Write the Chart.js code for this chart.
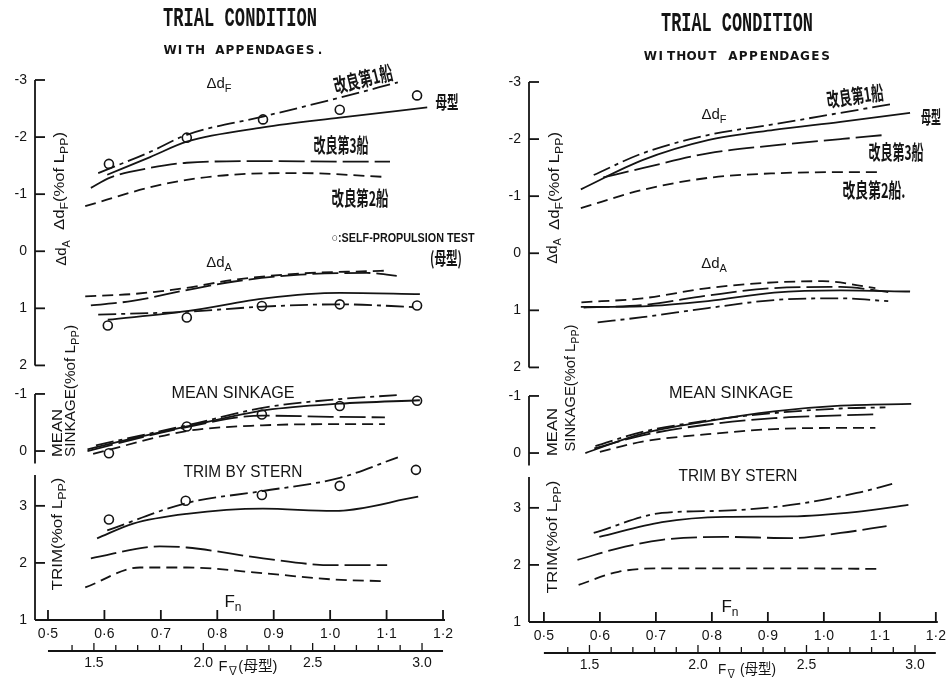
<!DOCTYPE html>
<html>
<head>
<meta charset="utf-8">
<script src="https://cdn.jsdelivr.net/npm/chart.js"></script>
<style>
  html, body { margin: 0; padding: 0; background: #fff; }
  #wrap { position: relative; width: 952px; height: 681px; overflow: hidden; }
  canvas { position: absolute; top: 0; }
  #left { left: 0; }
  #right { left: 476px; }
</style>
</head>
<body>
<div id="wrap">
  <canvas id="left" width="476" height="681"></canvas>
  <canvas id="right" width="476" height="681"></canvas>
</div>
<script>
// ---- axis ticks ----
const fnTicks = [0.5, 0.6, 0.7, 0.8, 0.9, 1.0, 1.1, 1.2];
const fvTicks = [1.4, 1.5, 1.6, 1.7, 1.8, 1.9, 2.0, 2.1, 2.2, 2.3, 2.4, 2.5, 2.6, 2.7, 2.8, 2.9, 3.0];
const fvLabelled = [1.5, 2.0, 2.5, 3.0];
const FV_PER_FN = 2.58; // Fv of the parent hull is proportional to Fn

// y ticks: [section, value]; the axis is one stacked scale of four sections
const yTicks = [['dF', -3], ['dF', -2], ['dF', -1], ['dF', 0], ['dA', 1], ['dA', 2],
                ['sink', -1], ['sink', 0], ['trim', 3], ['trim', 2], ['trim', 1]];
const ySegments = [[['dF', -3], ['dA', 2]], [['sink', -1], ['sink', 0.22]], [['trim', 3.54], ['trim', 1]]];

// ---- WITH APPENDAGES (left) : [Fn, value] ----
const withDF_mother = [[0.605, -1.34], [0.681, -1.65], [0.746, -1.92], [0.881, -2.17], [1.017, -2.34], [1.172, -2.52]];
const withDF_ship1  = [[0.589, -1.37], [0.681, -1.74], [0.746, -2.04], [0.881, -2.36], [1.017, -2.69], [1.120, -2.96]];
const withDF_ship2  = [[0.566, -0.79], [0.681, -1.12], [0.746, -1.25], [0.826, -1.34], [0.944, -1.37], [1.101, -1.30]];
const withDF_ship3  = [[0.576, -1.11], [0.610, -1.29], [0.681, -1.46], [0.746, -1.55], [0.881, -1.58], [1.017, -1.57], [1.106, -1.57]];
const withDF_test   = [[0.608, -1.53], [0.746, -1.99], [0.881, -2.31], [1.017, -2.48], [1.154, -2.73]];

const withDA_mother = [[0.606, 1.20], [0.746, 1.05], [0.888, 0.82], [1.017, 0.73], [1.159, 0.75]];
const withDA_ship1  = [[0.589, 1.11], [0.746, 1.06], [0.881, 0.97], [1.017, 0.93], [1.154, 0.98]];
const withDA_ship2  = [[0.566, 0.79], [0.650, 0.75], [0.746, 0.64], [0.830, 0.50], [0.947, 0.39], [1.065, 0.35], [1.100, 0.34]];
const withDA_ship3  = [[0.576, 0.95], [0.650, 0.87], [0.746, 0.68], [0.830, 0.53], [0.947, 0.41], [1.065, 0.38], [1.118, 0.43]];
const withDA_test   = [[0.606, 1.30], [0.746, 1.16], [0.879, 0.96], [1.017, 0.93], [1.154, 0.95]];

const withSink_mother = [[0.570, -0.03], [0.650, -0.22], [0.746, -0.43], [0.888, -0.72], [1.017, -0.83], [1.159, -0.89]];
const withSink_ship1  = [[0.585, -0.10], [0.746, -0.45], [0.888, -0.77], [1.017, -0.91], [1.118, -0.98]];
const withSink_ship2  = [[0.580, 0.05], [0.746, -0.35], [0.880, -0.45], [1.000, -0.47], [1.097, -0.47]];
const withSink_ship3  = [[0.570, 0.00], [0.746, -0.42], [0.880, -0.62], [1.000, -0.60], [1.097, -0.59]];
const withSink_test   = [[0.608, 0.04], [0.746, -0.43], [0.879, -0.64], [1.017, -0.79], [1.154, -0.88]];

const withTrim_mother = [[0.587, 2.43], [0.651, 2.69], [0.746, 2.86], [0.881, 2.95], [1.005, 2.91], [1.156, 3.16]];
const withTrim_ship1  = [[0.605, 2.57], [0.746, 3.05], [0.881, 3.26], [1.017, 3.49], [1.120, 3.85]];
const withTrim_ship2  = [[0.566, 1.57], [0.663, 1.92], [0.746, 1.92], [0.881, 1.82], [1.005, 1.71], [1.097, 1.68]];
const withTrim_ship3  = [[0.576, 2.08], [0.698, 2.29], [0.746, 2.27], [0.881, 2.08], [1.005, 1.96], [1.101, 1.96]];
const withTrim_test   = [[0.608, 2.76], [0.744, 3.09], [0.879, 3.19], [1.017, 3.35], [1.152, 3.63]];

// ---- WITHOUT APPENDAGES (right) ----
const noDF_mother = [[0.566, -1.12], [0.676, -1.63], [0.793, -1.98], [0.911, -2.16], [1.030, -2.30], [1.154, -2.46]];
const noDF_ship1  = [[0.589, -1.37], [0.676, -1.75], [0.793, -2.07], [0.911, -2.26], [1.030, -2.46], [1.119, -2.61]];
const noDF_ship2  = [[0.566, -0.79], [0.676, -1.11], [0.793, -1.32], [0.911, -1.40], [1.030, -1.42], [1.103, -1.42]];
const noDF_ship3  = [[0.606, -1.33], [0.676, -1.49], [0.793, -1.75], [0.911, -1.89], [1.030, -2.00], [1.106, -2.07]];

const noDA_mother = [[0.566, 0.94], [0.676, 0.93], [0.793, 0.84], [0.911, 0.69], [1.030, 0.65], [1.154, 0.67]];
const noDA_ship1  = [[0.596, 1.21], [0.676, 1.12], [0.793, 0.96], [0.911, 0.82], [1.030, 0.79], [1.115, 0.84]];
const noDA_ship2  = [[0.567, 0.86], [0.676, 0.79], [0.793, 0.61], [0.911, 0.51], [0.998, 0.49], [1.092, 0.61]];
const noDA_ship3  = [[0.571, 0.95], [0.676, 0.91], [0.793, 0.74], [0.911, 0.61], [1.030, 0.59], [1.115, 0.68]];

const noSink_mother = [[0.574, 0.00], [0.676, -0.34], [0.793, -0.56], [0.911, -0.73], [1.030, -0.83], [1.156, -0.86]];
const noSink_ship1  = [[0.592, -0.12], [0.676, -0.37], [0.793, -0.57], [0.911, -0.70], [1.030, -0.78], [1.110, -0.80]];
const noSink_ship2  = [[0.600, -0.02], [0.676, -0.20], [0.793, -0.33], [0.911, -0.42], [1.030, -0.44], [1.092, -0.44]];
const noSink_ship3  = [[0.590, -0.08], [0.676, -0.31], [0.793, -0.50], [0.911, -0.61], [1.030, -0.66], [1.098, -0.68]];

const noTrim_mother = [[0.599, 2.49], [0.711, 2.75], [0.823, 2.84], [0.941, 2.85], [1.059, 2.93], [1.151, 3.05]];
const noTrim_ship1  = [[0.589, 2.56], [0.711, 2.91], [0.823, 2.95], [0.941, 3.05], [1.059, 3.26], [1.122, 3.42]];
const noTrim_ship2  = [[0.562, 1.65], [0.633, 1.88], [0.711, 1.94], [0.823, 1.94], [0.941, 1.94], [1.098, 1.93]];
const noTrim_ship3  = [[0.560, 2.09], [0.645, 2.32], [0.711, 2.44], [0.823, 2.49], [0.941, 2.47], [1.030, 2.56], [1.112, 2.68]];

// ---- styles ----
const INK = '#141414';
const SANS = '"Liberation Sans", "Noto Sans CJK JP", sans-serif';
const MONO = '"Liberation Mono", monospace';
const CJK = '"Noto Sans CJK JP", sans-serif';
const DASH = { mother: [], ship1: [18, 5, 4, 5], ship2: [11, 6], ship3: [26, 6] };
const ROT = -Math.PI / 2;

// stacked y: each section has its own zero on one scale
const SECTIONS = { dF: [3, 1], dA: [3, 1], sink: [6.5, 1], trim: [10.46, -1] };
const toV = (sec, val) => SECTIONS[sec][0] + SECTIONS[sec][1] * val;
const yTickLabel = t => String(t[1]);

function curve(sec, pts, dash) {
  return {
    data: pts.map(p => ({ x: p[0], y: toV(sec, p[1]) })),
    borderColor: INK, borderWidth: 1.8, borderDash: dash,
    pointRadius: 0, cubicInterpolationMode: 'monotone', fill: false
  };
}
function testPoints(sec, pts) {
  return {
    data: pts.map(p => ({ x: p[0], y: toV(sec, p[1]) })),
    showLine: false, pointRadius: 4.5, pointBorderWidth: 1.6,
    pointBackgroundColor: 'rgba(0,0,0,0)', pointBorderColor: INK
  };
}

function line(ctx, x1, y1, x2, y2) {
  ctx.beginPath(); ctx.moveTo(x1, y1); ctx.lineTo(x2, y2); ctx.stroke();
}

// text made of parts; a part in brackets is a subscript
function rich(ctx, t) {
  const size = t.size || 14, fam = t.family || SANS, wt = t.weight || 'normal';
  const segs = t.parts.map(p => typeof p === 'string' ? { s: p, sub: false } : { s: p[0], sub: true });
  let total = 0;
  for (const g of segs) {
    ctx.font = `${wt} ${g.sub ? Math.round(size * 0.72) : size}px ${fam}`;
    g.w = ctx.measureText(g.s).width;
    total += g.w;
  }
  ctx.save();
  ctx.translate(t.x, t.y);
  if (t.rot) ctx.rotate(t.rot);
  ctx.scale(t.width ? t.width / total : 1, t.sy || 1);
  ctx.textBaseline = 'middle';
  ctx.textAlign = 'left';
  ctx.fillStyle = INK;
  let px = -total / 2;
  for (const g of segs) {
    ctx.font = `${wt} ${g.sub ? Math.round(size * 0.72) : size}px ${fam}`;
    ctx.fillText(g.s, px, g.sub ? size * 0.32 : 0);
    px += g.w;
  }
  ctx.restore();
}

function spaced(ctx, text, cx, cy, adv, font) {
  ctx.save();
  ctx.font = font; ctx.fillStyle = INK;
  ctx.textAlign = 'center'; ctx.textBaseline = 'middle';
  const x0 = cx - (text.length - 1) * adv / 2;
  [...text].forEach((c, i) => ctx.fillText(c, x0 + i * adv, cy));
  ctx.restore();
}

function makePaper(P) {
  return {
    id: 'paper',
    afterDraw(chart) {
      const ctx = chart.ctx, xs = chart.scales.x, ys = chart.scales.y, fv = chart.scales.fv;
      const L = chart.chartArea.left, B = chart.chartArea.bottom, R = chart.chartArea.right;
      ctx.save();
      ctx.strokeStyle = INK; ctx.lineWidth = 1.8;
      for (const [a, b] of ySegments) {
        line(ctx, L, ys.getPixelForValue(toV(a[0], a[1])), L, ys.getPixelForValue(toV(b[0], b[1])));
      }
      for (const t of yTicks) {
        const py = ys.getPixelForValue(toV(t[0], t[1]));
        line(ctx, L, py, L + 10, py);
      }
      line(ctx, L, B, R, B);
      for (const f of fnTicks) {
        const px = xs.getPixelForValue(f);
        line(ctx, px, B, px, B - 10);
      }
      const fy = fv.top;
      line(ctx, xs.getPixelForValue(0.5), fy, xs.getPixelForValue(1.2), fy);
      ctx.lineWidth = 1.3;
      for (const v of fvTicks) {
        const px = fv.getPixelForValue(v);
        line(ctx, px, fy, px, fy - (fvLabelled.includes(v) ? 8 : 6));
      }
      ctx.restore();
      spaced(ctx, P.subtitle, P.subX, P.subY, P.subAdv, 'bold 12px "DejaVu Sans", sans-serif');
      P.texts.forEach(t => rich(ctx, t));
    }
  };
}

function buildPanel(P) {
  const datasets = [];
  for (const sec of ['dF', 'dA', 'sink', 'trim']) {
    const c = P.curves[sec];
    datasets.push(curve(sec, c[0], DASH.mother));
    datasets.push(curve(sec, c[1], DASH.ship1));
    datasets.push(curve(sec, c[2], DASH.ship2));
    datasets.push(curve(sec, c[3], DASH.ship3));
    if (P.tests) datasets.push(testPoints(sec, P.tests[sec]));
  }
  const tickFont = { family: SANS, size: 14 };
  new Chart(document.getElementById(P.id), {
    type: 'line',
    data: { datasets },
    options: {
      responsive: false, animation: false, events: [],
      layout: { padding: { left: 0, top: P.top, right: P.right, bottom: 0 } },
      plugins: { legend: { display: false }, tooltip: { enabled: false }, title: { display: false } },
      scales: {
        x: {
          type: 'linear', position: 'bottom', weight: 0, min: P.xMin, max: P.xMax,
          afterFit: s => { s.height = 31; },
          afterBuildTicks: s => { s.ticks = fnTicks.map(v => ({ value: v })); },
          ticks: { autoSkip: false, maxRotation: 0, padding: 6, color: INK, font: tickFont,
                   callback: v => v.toFixed(1).replace('.', '·') },
          grid: { display: false, drawTicks: false }, border: { display: false }
        },
        fv: {
          type: 'linear', position: 'bottom', weight: 1,
          min: P.xMin * FV_PER_FN, max: P.xMax * FV_PER_FN,
          afterFit: s => { s.height = P.fvH; },
          afterBuildTicks: s => { s.ticks = fvTicks.map(v => ({ value: v })); },
          ticks: { autoSkip: false, maxRotation: 0, padding: 4, color: INK, font: tickFont,
                   callback: v => fvLabelled.includes(v) ? v.toFixed(1) : '' },
          grid: { display: false, drawTicks: false }, border: { display: false }
        },
        y: {
          type: 'linear', position: 'left', reverse: true, min: 0, max: toV('trim', 1),
          afterFit: s => { s.width = P.left; },
          afterBuildTicks: s => { s.ticks = yTicks.map(t => ({ value: toV(t[0], t[1]) })); },
          ticks: { autoSkip: false, padding: 8, color: INK, font: tickFont,
                   callback: (v, i) => yTickLabel(yTicks[i]) },
          grid: { display: false, drawTicks: false }, border: { display: false }
        }
      }
    },
    plugins: [makePaper(P)]
  });
}

const jp = { family: CJK, weight: 'bold' };

buildPanel({
  id: 'left', left: 35, top: 80, right: 31, fvH: 30, xMin: 0.477, xMax: 1.2035,
  curves: {
    dF: [withDF_mother, withDF_ship1, withDF_ship2, withDF_ship3],
    dA: [withDA_mother, withDA_ship1, withDA_ship2, withDA_ship3],
    sink: [withSink_mother, withSink_ship1, withSink_ship2, withSink_ship3],
    trim: [withTrim_mother, withTrim_ship1, withTrim_ship2, withTrim_ship3]
  },
  tests: { dF: withDF_test, dA: withDA_test, sink: withSink_test, trim: withTrim_test },
  subtitle: 'WITH APPENDAGES.', subX: 245, subY: 51, subAdv: 10,
  texts: [
    { parts: ['TRIAL CONDITION'], x: 240, y: 19, size: 16, family: MONO, weight: 'bold', width: 154, sy: 1.7 },
    { parts: ['Δd', ['F']], x: 219, y: 84, size: 15 },
    { parts: ['改良第1船'], x: 363, y: 79, size: 20, width: 60, rot: -0.24, ...jp },
    { parts: ['母型'], x: 447, y: 102, size: 18, width: 23, ...jp },
    { parts: ['改良第3船'], x: 341, y: 145, size: 20, width: 55, ...jp },
    { parts: ['改良第2船'], x: 360, y: 198, size: 20, width: 57, ...jp },
    { parts: ['○:SELF-PROPULSION TEST'], x: 403, y: 238, size: 13, weight: 'bold', width: 143 },
    { parts: ['(母型)'], x: 446, y: 258, size: 18, width: 32, ...jp },
    { parts: ['Δd', ['A']], x: 219, y: 263, size: 15 },
    { parts: ['MEAN SINKAGE'], x: 233, y: 393, size: 17, width: 123 },
    { parts: ['TRIM BY STERN'], x: 243, y: 472, size: 17, width: 119 },
    { parts: ['F', ['n']], x: 233, y: 602, size: 17 },
    { parts: ['F', ['∇'], '(母型)'], x: 248, y: 667, size: 15, width: 59 },
    { parts: ['Δd', ['F'], '(%of L', ['PP'], ')'], x: 60, y: 181, size: 15, width: 98, rot: ROT },
    { parts: ['Δd', ['A']], x: 62, y: 253, size: 15, rot: ROT },
    { parts: ['MEAN'], x: 58, y: 433, size: 15, width: 48, rot: ROT },
    { parts: ['SINKAGE(%of L', ['PP'], ')'], x: 71, y: 391, size: 15, width: 132, rot: ROT },
    { parts: ['TRIM(%of L', ['PP'], ')'], x: 58, y: 534, size: 15, width: 113, rot: ROT }
  ]
});

buildPanel({
  id: 'right', left: 53, top: 82, right: 11, fvH: 28, xMin: 0.4734, xMax: 1.2035,
  curves: {
    dF: [noDF_mother, noDF_ship1, noDF_ship2, noDF_ship3],
    dA: [noDA_mother, noDA_ship1, noDA_ship2, noDA_ship3],
    sink: [noSink_mother, noSink_ship1, noSink_ship2, noSink_ship3],
    trim: [noTrim_mother, noTrim_ship1, noTrim_ship2, noTrim_ship3]
  },
  subtitle: 'WITHOUT APPENDAGES', subX: 262, subY: 57, subAdv: 10.3,
  texts: [
    { parts: ['TRIAL CONDITION'], x: 261, y: 24, size: 16, family: MONO, weight: 'bold', width: 152, sy: 1.7 },
    { parts: ['Δd', ['F']], x: 238, y: 115, size: 15 },
    { parts: ['改良第1船'], x: 379, y: 96, size: 20, width: 57, rot: -0.14, ...jp },
    { parts: ['母型'], x: 455, y: 117, size: 18, width: 20, ...jp },
    { parts: ['改良第3船'], x: 420, y: 152, size: 20, width: 55, ...jp },
    { parts: ['改良第2船.'], x: 398, y: 190, size: 20, width: 63, ...jp },
    { parts: ['Δd', ['A']], x: 238, y: 264, size: 15 },
    { parts: ['MEAN SINKAGE'], x: 255, y: 393, size: 17, width: 124 },
    { parts: ['TRIM BY STERN'], x: 262, y: 476, size: 17, width: 119 },
    { parts: ['F', ['n']], x: 254, y: 607, size: 17 },
    { parts: ['F', ['∇'], ' (母型)'], x: 271, y: 670, size: 15, width: 58 },
    { parts: ['Δd', ['F'], '(%of L', ['PP'], ')'], x: 79, y: 181, size: 15, width: 98, rot: ROT },
    { parts: ['Δd', ['A']], x: 77, y: 251, size: 15, rot: ROT },
    { parts: ['MEAN'], x: 77, y: 432, size: 15, width: 48, rot: ROT },
    { parts: ['SINKAGE(%of L', ['PP'], ')'], x: 95, y: 388, size: 15, width: 127, rot: ROT },
    { parts: ['TRIM(%of L', ['PP'], ')'], x: 77, y: 537, size: 15, width: 113, rot: ROT }
  ]
});
</script>
</body>
</html>
